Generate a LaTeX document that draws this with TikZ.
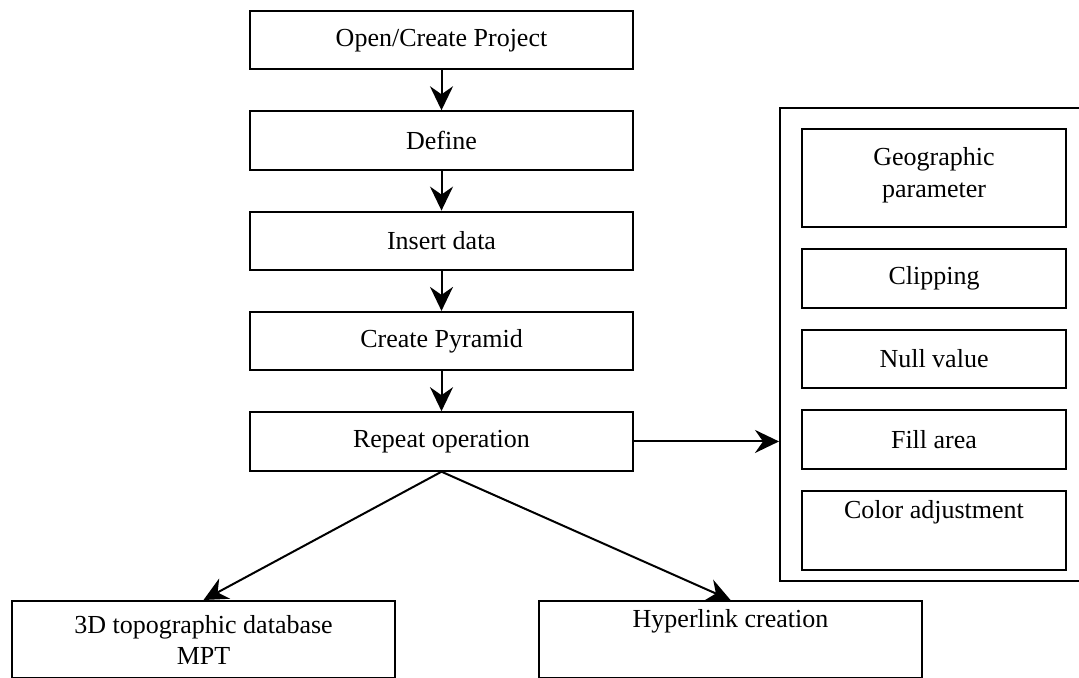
\documentclass[tikz,border=0pt]{standalone}
\usepackage{fontspec}
\setmainfont{Liberation Serif}
\usetikzlibrary{arrows.meta,positioning}

\begin{document}
\begin{tikzpicture}[
    x=0.5pt,
    y=-0.5pt,
    >={Stealth[length=12pt,width=11.5pt,inset=4pt]},
    font=\fontsize{13}{15.5}\selectfont,
    stepbox/.style={
        draw,
        line width=1pt,
        rectangle,
        minimum width=191.5pt,
        minimum height=29.25pt,
        align=center
    },
    optbox/.style={
        draw,
        line width=1pt,
        rectangle,
        minimum width=132pt,
        minimum height=29.25pt,
        align=center
    },
    outbox/.style={
        draw,
        line width=1pt,
        rectangle,
        minimum width=191.5pt,
        minimum height=38.5pt,
        align=center,
        anchor=north west
    },
    signal/.style={->, line width=1pt}
]

\useasboundingbox (0,0) rectangle (1079,678);

% =========================
% Main column
% =========================
\node[stepbox, anchor=north] (open) at (441.5,10) {Open/Create Project};

\node[stepbox, below=19.9pt of open] (define) {Define};

\node[stepbox, below=19.9pt of define] (insert) {Insert data};

\node[stepbox, below=19.9pt of insert] (pyramid) {Create Pyramid};

\node[stepbox, below=19.9pt of pyramid] (repeat) {Repeat operation};

% =========================
% Operation panel
% =========================
\node[draw, line width=1pt, minimum width=160pt, minimum height=236.5pt,
      inner sep=0pt, anchor=north west] (panel) at (779,107) {};

\node[optbox, minimum height=49pt, text depth=6pt, font=\fontsize{13}{16}\selectfont,
      anchor=north west] (geo) at (801,128) {Geographic\\parameter};

\node[optbox, below=10pt of geo] (clip) {Clipping};

\node[optbox, below=10pt of clip] (null) {Null value};

\node[optbox, below=10pt of null] (fill) {Fill area};

\node[optbox, minimum height=39.5pt, text depth=21pt, below=10pt of fill] (color) {Color adjustment};

% =========================
% Outputs
% =========================
\node[outbox] (db) at (11,600) {3D topographic database\\MPT};

\node[outbox, text depth=21pt] (link) at (538,600) {Hyperlink creation};

% =========================
% Main flow
% =========================
\draw[signal] (open) -- (define);
\draw[signal] (define) -- (insert);
\draw[signal] (insert) -- (pyramid);
\draw[signal] (pyramid) -- (repeat);

% =========================
% Branches
% =========================
\draw[signal] (repeat.east) -- (repeat.east -| panel.west);

\draw[signal] (repeat.south) -- (db.north);
\draw[signal] (repeat.south) -- (link.north);

\end{tikzpicture}
\end{document}
